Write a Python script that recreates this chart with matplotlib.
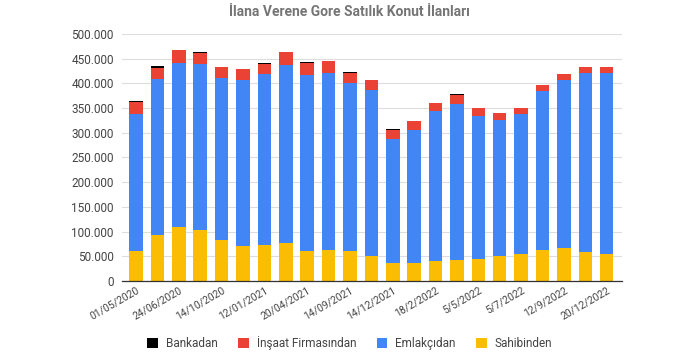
import matplotlib
matplotlib.use("Agg")
import matplotlib.pyplot as plt
from matplotlib.ticker import FuncFormatter
from matplotlib.patches import Patch
import numpy as np

dates = ["01/05/2020", "", "24/06/2020", "", "14/10/2020", "", "12/01/2021", "",
         "20/04/2021", "", "14/09/2021", "", "14/12/2021", "", "18/2/2022", "",
         "5/5/2022", "", "5/7/2022", "", "12/9/2022", "", "20/12/2022"]
sahibinden = [61000, 93000, 109000, 103000, 82000, 71500, 72000, 77500, 61000, 63000, 61000, 51000,
              37000, 37000, 41000, 43000, 45000, 51000, 55000, 63000, 66000, 59000, 55000]
emlakcidan = [276000, 315000, 333000, 336000, 329000, 335500, 347000, 359500, 356000, 357000, 340000, 335000,
              250000, 269000, 303000, 315000, 289000, 275000, 282000, 321000, 341000, 361000, 367000]
insaat = [25000, 24000, 25000, 23000, 21500, 21500, 21000, 26000, 25000, 25000, 21000, 21000,
          19000, 17000, 16000, 19000, 16000, 14000, 13000, 12000, 12000, 12500, 11000]
bankadan = [2000, 2500, 700, 1500, 500, 400, 400, 700, 500, 400, 400, 400,
            600, 400, 300, 500, 400, 600, 400, 400, 600, 300, 400]
series_names = ["Bankadan", "İnşaat Firmasından", "Emlakçıdan", "Sahibinden"]
colors = {"Bankadan": "#000000", "İnşaat Firmasından": "#ea4335",
          "Emlakçıdan": "#4285f4", "Sahibinden": "#fbbc04"}

plt.rcParams['font.family'] = ['Roboto', 'DejaVu Sans']

fig = plt.figure(figsize=(6.9, 3.56), dpi=100)
ax = fig.add_axes([0.177, 0.211, 0.724, 0.6935])

x = np.arange(len(sahibinden))
w = 0.63
s = np.array(sahibinden)
e = np.array(emlakcidan)
i_ = np.array(insaat)
b = np.array(bankadan)
ax.bar(x, s, w, color=colors["Sahibinden"], zorder=3)
ax.bar(x, e, w, bottom=s, color=colors["Emlakçıdan"], zorder=3)
ax.bar(x, i_, w, bottom=s + e, color=colors["İnşaat Firmasından"], zorder=3)
ax.bar(x, b, w, bottom=s + e + i_, color=colors["Bankadan"], zorder=3)

ax.set_xlim(-0.65, 22.7)
ax.set_ylim(0, 500000)
ax.set_yticks(np.arange(0, 500001, 50000))
ax.yaxis.set_major_formatter(FuncFormatter(lambda v, p: f"{int(v):,}".replace(",", ".")))
ax.grid(axis='y', color='#dddddd', linewidth=0.8, zorder=0)
for sp in ["top", "right", "left"]:
    ax.spines[sp].set_visible(False)
ax.spines["bottom"].set_color("#333333")
ax.spines["bottom"].set_linewidth(0.9)
ax.spines["bottom"].set_zorder(4)
ax.tick_params(axis='y', length=0, labelsize=8.5, labelcolor='#444444', pad=6)
ax.tick_params(axis='x', length=0, labelsize=7.5, labelcolor='#444444', pad=3)
ax.set_xticks(x)
ax.set_xticklabels(dates, rotation=30, ha='right', rotation_mode='anchor')

fig.text(0.507, 0.965, "İlana Verene Gore Satılık Konut İlanları", ha='center', va='center',
         fontsize=10, fontweight='bold', color='#757575')

handles = [Patch(facecolor=colors[n], edgecolor='none') for n in series_names]
fig.legend(handles, series_names, loc='center', bbox_to_anchor=(0.507, 0.036), ncol=4,
           frameon=False, fontsize=8.5, handlelength=0.9, handleheight=0.9,
           columnspacing=1.7, handletextpad=0.7, labelcolor='#444444')

fig.savefig("out.png", dpi=100)
